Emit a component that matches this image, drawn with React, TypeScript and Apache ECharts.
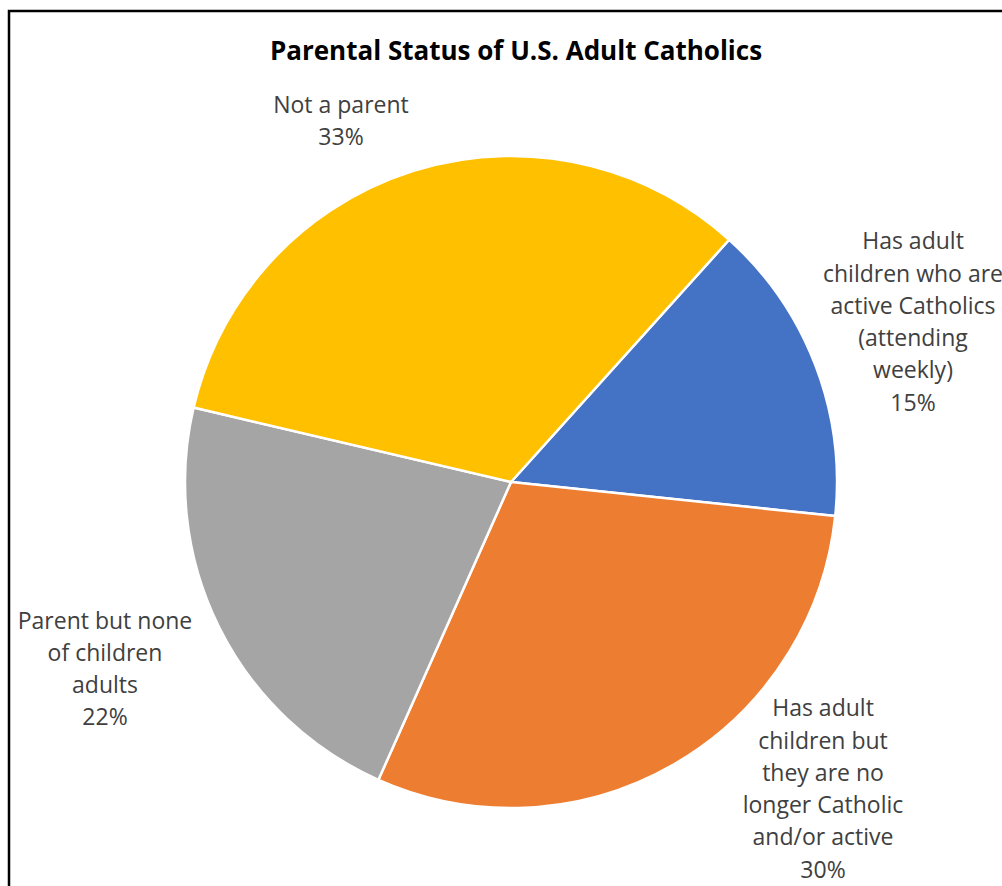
import React, { useEffect, useRef } from "react";
import * as echarts from "echarts";

const titleText = "Parental Status of U.S. Adult Catholics";
const categories = [
  "Has adult\nchildren who are\nactive Catholics\n(attending\nweekly)",
  "Has adult\nchildren but\nthey are no\nlonger Catholic\nand/or active",
  "Parent but none\nof children\nadults",
  "Not a parent",
];
const values = [15, 30, 22, 33];
const colors = ["#4472C4", "#ED7D31", "#A5A5A5", "#FFC000"];
// label block centres (px) as placed in the reference
const labelX = [913, 823, 105, 341];
const labelY = [321, 788, 668, 120];

export default function App() {
  const ref = useRef<HTMLDivElement>(null);
  useEffect(() => {
    if (!ref.current) return;
    const chart = echarts.init(ref.current, undefined, { renderer: "svg" });
    chart.setOption({
      animation: false,
      backgroundColor: "#ffffff",
      title: {
        text: titleText,
        left: 511,
        textAlign: "center",
        top: 32,
        textStyle: {
          fontFamily: "Open Sans",
          fontWeight: "bold",
          fontSize: 26,
          color: "#000000",
        },
      },
      graphic: [
        {
          type: "rect",
          shape: { x: 9, y: 11, width: 1200, height: 1000 },
          style: { fill: "none", stroke: "#000000", lineWidth: 2.5 },
          silent: true,
        },
      ],
      series: [
        {
          type: "pie",
          center: [511, 482],
          radius: 326,
          startAngle: 48,
          clockwise: true,
          data: categories.map((c, i) => ({
            name: c,
            value: values[i],
            itemStyle: { color: colors[i] },
          })),
          itemStyle: { borderColor: "#ffffff", borderWidth: 2.5 },
          label: {
            show: true,
            position: "outside",
            formatter: "{b}\n{c}%",
            fontFamily: "Open Sans",
            fontSize: 23,
            lineHeight: 32.3,
            color: "#404040",
            align: "center",
            overflow: "none",
          },
          labelLine: { show: false },
          labelLayout: (p: any) => ({
            x: labelX[p.dataIndex],
            y: labelY[p.dataIndex],
            align: "center",
            verticalAlign: "middle",
          }),
          emphasis: { disabled: true },
        },
      ],
    });
    return () => chart.dispose();
  }, []);
  return (
    <div
      ref={ref}
      style={{ position: "fixed", left: 0, top: 0, width: 1002, height: 886 }}
    />
  );
}
